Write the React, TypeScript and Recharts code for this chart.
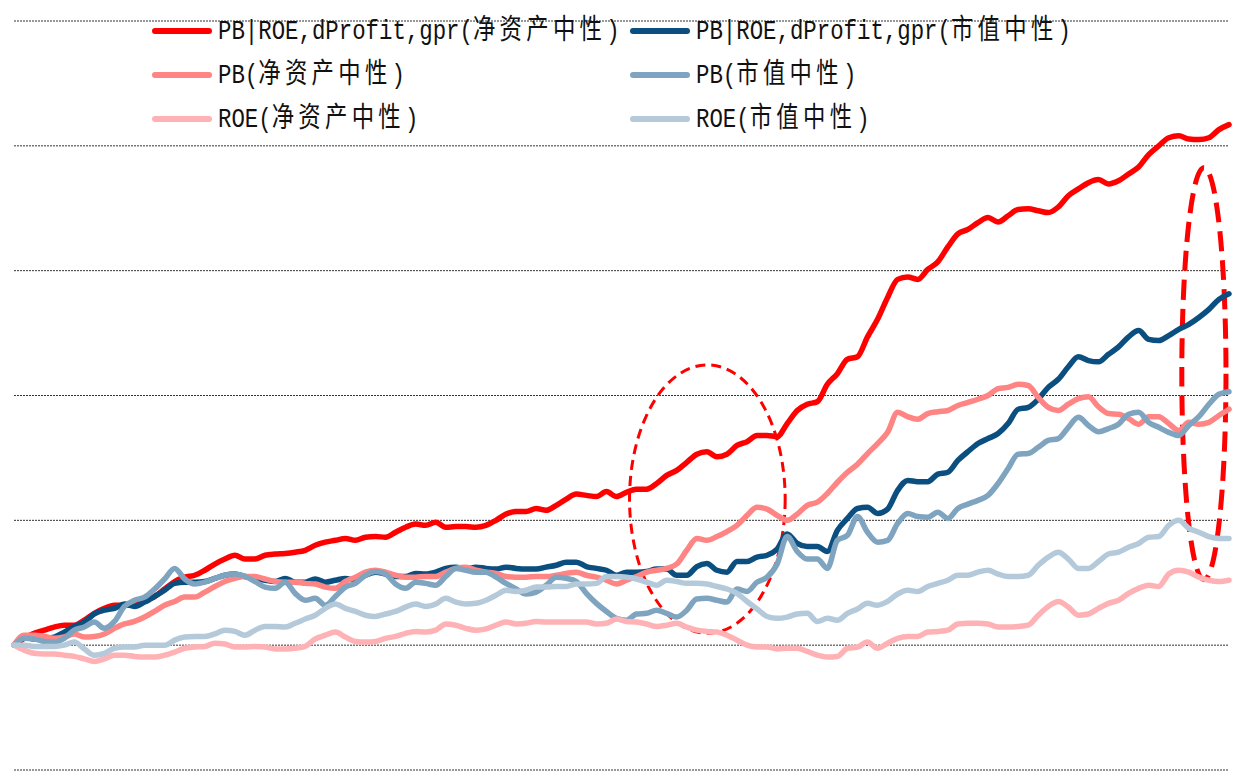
import React from 'react'
import { LineChart, Line, XAxis, YAxis, CartesianGrid, ReferenceArea, Legend } from 'recharts'

// trading-day index along the x axis
const days = Array.from({ length: 122 }, (_, i) => i)

// cumulative excess return, %
const pbRoeNav = [
  0, 1.1, 1.9, 2.4, 2.9, 3.2, 3.2, 4.0, 5.1, 5.9,
  6.4, 6.4, 6.4, 7.2, 7.8, 9.0, 10.2, 10.9, 11.2, 12.0,
  13.0, 13.8, 14.4, 13.8, 13.8, 14.4, 14.6, 14.7, 14.9, 15.2,
  16.0, 16.5, 16.8, 17.1, 16.8, 17.3, 17.4, 17.3, 18.1, 18.9,
  19.4, 19.2, 19.7, 18.9, 19.0, 19.0, 18.9, 19.2, 20.0, 21.0,
  21.4, 21.4, 21.9, 21.6, 22.4, 23.4, 24.2, 24.0, 23.8, 24.6,
  23.8, 24.5, 25.0, 25.0, 25.9, 27.2, 28.0, 29.3, 30.6, 31.0,
  30.2, 30.6, 32.0, 32.6, 33.6, 33.6, 33.4, 35.5, 37.6, 38.6,
  39.0, 41.8, 43.5, 45.8, 46.2, 49.4, 52.2, 55.7, 58.6, 59.0,
  58.6, 60.2, 61.4, 63.8, 65.9, 66.6, 67.7, 68.5, 67.8, 68.8,
  69.8, 69.9, 69.6, 69.3, 70.2, 72.0, 73.1, 74.1, 74.6, 73.9,
  74.4, 75.5, 76.6, 78.6, 80.0, 81.3, 81.6, 81.1, 81.0, 81.3,
  82.6, 83.4,
]

const pbRoeMcap = [
  0, 1.3, 1.0, 1.1, 1.3, 2.1, 3.0, 3.7, 5.0, 5.6,
  5.9, 6.6, 6.2, 6.9, 7.8, 8.8, 9.9, 10.1, 10.1, 10.2,
  10.7, 11.2, 11.4, 11.0, 10.7, 10.4, 10.2, 10.7, 10.1, 10.1,
  10.6, 10.1, 10.4, 10.7, 10.4, 11.2, 11.7, 11.4, 11.0, 11.0,
  11.5, 11.4, 11.7, 12.3, 12.5, 12.2, 12.5, 12.3, 12.2, 12.5,
  12.3, 12.2, 12.2, 12.5, 12.8, 13.3, 13.3, 12.6, 12.3, 12.0,
  11.2, 11.7, 11.7, 11.8, 12.2, 12.2, 11.2, 11.2, 12.6, 13.1,
  12.0, 11.7, 13.4, 13.4, 14.1, 14.4, 15.4, 17.8, 16.3, 15.8,
  15.8, 15.0, 18.4, 20.3, 21.9, 22.1, 21.1, 21.8, 24.8, 26.4,
  26.2, 26.2, 27.4, 27.7, 29.6, 31.0, 32.3, 33.1, 33.9, 35.5,
  37.8, 38.1, 39.4, 41.3, 42.6, 44.6, 46.2, 45.6, 45.4, 46.6,
  47.8, 49.4, 50.4, 49.0, 48.8, 49.6, 50.6, 51.4, 52.5, 53.8,
  55.4, 56.3,
]

const pbNav = [
  0, 1.6, 1.6, 1.4, 1.1, 1.3, 1.8, 1.3, 1.4, 1.8,
  2.7, 3.4, 3.8, 4.5, 5.4, 6.4, 7.0, 7.7, 7.7, 8.5,
  9.4, 10.2, 10.7, 11.0, 11.0, 10.6, 10.2, 10.1, 10.1, 9.9,
  9.8, 9.3, 9.1, 10.2, 10.9, 11.7, 12.0, 11.7, 11.2, 10.9,
  10.9, 11.0, 11.0, 11.7, 12.3, 12.5, 12.0, 11.7, 11.5, 11.0,
  10.9, 10.9, 11.0, 11.0, 11.2, 11.5, 11.7, 11.2, 10.9, 10.4,
  9.8, 10.4, 11.0, 11.7, 12.0, 12.3, 13.0, 15.2, 17.1, 16.8,
  17.4, 18.2, 19.2, 20.8, 22.1, 21.8, 20.8, 20.0, 21.0, 22.4,
  22.9, 24.3, 26.1, 27.7, 29.0, 30.7, 32.3, 34.1, 37.3, 36.6,
  36.2, 37.1, 37.4, 37.6, 38.4, 38.9, 39.4, 40.0, 41.1, 41.3,
  41.8, 41.6, 39.7, 38.1, 37.6, 38.6, 39.5, 39.8, 38.2, 37.1,
  37.0, 36.3, 35.4, 36.6, 36.6, 35.5, 34.4, 35.7, 35.4, 35.7,
  36.8, 37.8,
]

const pbMcap = [
  0, 1.1, 1.0, 0.6, 0.5, 1.1, 2.4, 2.9, 3.7, 2.7,
  3.8, 6.2, 7.2, 7.7, 9.0, 10.6, 12.3, 10.6, 9.8, 10.1,
  10.7, 11.2, 11.4, 11.0, 10.2, 9.3, 9.1, 10.1, 8.3, 7.2,
  7.5, 6.4, 7.8, 9.3, 9.9, 11.2, 11.8, 11.4, 9.8, 9.1,
  10.1, 9.9, 9.6, 11.0, 12.3, 12.0, 11.7, 11.7, 10.9, 9.9,
  9.0, 8.2, 8.5, 9.6, 10.9, 10.7, 10.2, 8.3, 6.7, 5.4,
  4.3, 4.0, 5.0, 5.1, 5.6, 5.1, 4.5, 5.6, 7.4, 7.5,
  7.2, 6.9, 9.0, 8.6, 10.1, 10.9, 13.0, 17.4, 15.0, 13.8,
  13.8, 12.3, 16.8, 17.6, 20.6, 18.1, 16.5, 16.8, 19.5, 21.1,
  20.6, 20.5, 21.3, 20.3, 21.9, 22.6, 23.2, 24.0, 25.9, 28.3,
  30.6, 30.7, 31.7, 32.8, 33.1, 34.9, 36.5, 35.2, 34.2, 34.7,
  35.4, 37.0, 37.3, 35.7, 34.9, 34.1, 33.6, 35.2, 36.6, 38.6,
  40.2, 40.6,
]

const roeNav = [
  0, -0.8, -1.3, -1.4, -1.4, -1.6, -1.8, -2.2, -2.6, -2.2,
  -1.6, -1.6, -1.8, -1.9, -1.9, -1.6, -1.1, -0.5, -0.3, -0.2,
  0.3, 0.2, -0.3, -0.3, -0.2, -0.3, -0.6, -0.6, -0.5, -0.2,
  1.0, 1.6, 2.1, 1.3, 0.6, 0.5, 0.6, 1.1, 1.4, 1.9,
  2.2, 2.1, 2.4, 3.4, 3.2, 2.7, 2.4, 2.6, 3.2, 3.7,
  3.4, 3.5, 3.8, 3.7, 3.7, 3.7, 3.7, 3.7, 3.4, 3.5,
  4.2, 3.8, 3.7, 3.4, 3.0, 3.2, 3.5, 2.9, 2.4, 2.2,
  2.1, 1.6, 0.8, 0, -0.3, -0.3, -0.6, -0.5, -0.5, -1.0,
  -1.6, -1.9, -1.8, -0.5, -0.3, 0.5, -0.5, 0.3, 1.1, 1.4,
  1.4, 2.1, 2.2, 2.4, 3.4, 3.5, 3.5, 3.4, 2.9, 2.9,
  3.0, 3.2, 4.8, 6.2, 7.0, 6.1, 4.8, 5.0, 5.9, 6.7,
  7.2, 8.3, 9.1, 9.6, 9.4, 11.4, 12.0, 11.7, 10.9, 10.4,
  10.2, 10.4,
]

const roeMcap = [
  0, 0, -0.2, -0.2, -0.2, 0, 0.5, -0.6, -1.6, -1.3,
  -0.5, -0.3, -0.3, 0, 0, 0, 0.8, 1.3, 1.4, 1.4,
  1.8, 2.4, 2.2, 1.6, 2.4, 3.0, 3.0, 2.9, 3.5, 4.2,
  4.8, 5.9, 6.6, 5.9, 5.4, 4.8, 4.6, 5.0, 5.4, 6.1,
  6.6, 6.2, 6.6, 7.5, 6.9, 6.6, 6.7, 7.2, 8.0, 8.8,
  8.6, 8.8, 9.3, 9.3, 9.4, 9.4, 9.8, 9.8, 9.9, 11.0,
  11.0, 10.9, 10.6, 10.1, 9.6, 10.4, 10.2, 9.9, 9.9, 9.8,
  9.4, 9.0, 8.3, 7.0, 5.8, 4.6, 4.3, 4.5, 5.0, 5.1,
  3.8, 4.3, 4.0, 5.1, 5.8, 6.7, 6.4, 7.0, 8.2, 8.8,
  8.6, 9.4, 9.9, 10.4, 11.2, 11.2, 11.7, 12.0, 11.4, 11.0,
  11.0, 11.2, 12.8, 14.1, 14.9, 13.8, 12.3, 12.3, 13.4, 14.6,
  14.9, 15.7, 16.3, 17.3, 17.4, 19.2, 20.0, 18.7, 18.1, 17.4,
  17.1, 17.1,
]

const yTicks = [-20, 0, 20, 40, 60, 80, 100]

const series = [
  { key: 's1', name: 'PB|ROE,dProfit,gpr(净资产中性)', color: '#FF0000', values: pbRoeNav },
  { key: 's2', name: 'PB|ROE,dProfit,gpr(市值中性)', color: '#0A4F80', values: pbRoeMcap },
  { key: 's3', name: 'PB(净资产中性)', color: '#FF8484', values: pbNav },
  { key: 's4', name: 'PB(市值中性)', color: '#7FA4C0', values: pbMcap },
  { key: 's5', name: 'ROE(净资产中性)', color: '#FFB2B5', values: roeNav },
  { key: 's6', name: 'ROE(市值中性)', color: '#B4C9DA', values: roeMcap },
]

// dashed ellipses highlighting two periods (data units)
const highlights = [
  { x1: 61.3, x2: 76.8, y1: 1.9, y2: 44.9, width: 3, dash: '10 6' },
  { x1: 116.3, x2: 120.7, y1: 10.5, y2: 76.5, width: 5, dash: '20 9' },
]

const data = days.map((t, i) => {
  const row: Record<string, number> = { t }
  series.forEach((s) => { row[s.key] = s.values[i] })
  return row
})

function splitLabel(text: string) {
  return text.split(/([\u4e00-\u9fff]+)/).filter(Boolean)
}

function ChartLegend() {
  return (
    <div style={{ position: 'relative', width: 1242, height: 140 }}>
      {series.map((s, k) => {
        const col = k % 2
        const row = Math.floor(k / 2)
        return (
          <div
            key={s.key}
            style={{
              position: 'absolute',
              left: col === 0 ? 152 : 630,
              top: 31 + row * 44 - 16,
              height: 32,
              display: 'flex',
              alignItems: 'center',
              whiteSpace: 'nowrap',
            }}
          >
            <div style={{ width: 60, height: 6, borderRadius: 3, background: s.color, marginRight: 6 }} />
            <span
              style={{
                display: 'inline-block',
                fontFamily: '"Liberation Mono", "Noto Sans CJK SC", monospace',
                fontSize: 26,
                lineHeight: '32px',
                color: '#111',
                transform: 'scale(0.86, 1.08)',
                transformOrigin: 'left center',
              }}
            >
              {splitLabel(s.name).map((part, j) =>
                /[\u4e00-\u9fff]/.test(part) ? (
                  <span key={j} style={{ letterSpacing: 5 }}>{part}</span>
                ) : (
                  <span key={j}>{part}</span>
                )
              )}
            </span>
          </div>
        )
      })}
    </div>
  )
}

function ellipseShape(strokeWidth: number, dash: string) {
  return (props: any) => {
    const { x, y, width, height } = props
    return (
      <ellipse
        cx={x + width / 2}
        cy={y + height / 2}
        rx={Math.abs(width) / 2}
        ry={Math.abs(height) / 2}
        fill="none"
        stroke="#FF0000"
        strokeWidth={strokeWidth}
        strokeDasharray={dash}
      />
    )
  }
}

export default function App() {
  return (
    <div style={{ position: 'absolute', left: 0, top: 0, width: 1242, height: 774, background: '#fff' }}>
      <LineChart width={1242} height={774} data={data} margin={{ top: 21, right: 13, bottom: 4, left: 14 }}>
        <CartesianGrid vertical={false} stroke="#333" strokeDasharray="2 1" />
        <XAxis dataKey="t" type="number" domain={[0, 121]} hide />
        <YAxis domain={[-20, 100]} ticks={yTicks} hide />
        {series.map((s) => (
          <Line
            key={s.key}
            type="monotone"
            dataKey={s.key}
            name={s.name}
            stroke={s.color}
            strokeWidth={5.5}
            strokeLinecap="round"
            strokeLinejoin="round"
            dot={false}
            isAnimationActive={false}
          />
        ))}
        {highlights.map((h, i) => (
          <ReferenceArea
            key={i}
            x1={h.x1}
            x2={h.x2}
            y1={h.y1}
            y2={h.y2}
            ifOverflow="visible"
            shape={ellipseShape(h.width, h.dash)}
          />
        ))}
        <Legend
          layout="horizontal"
          verticalAlign="middle"
          align="center"
          wrapperStyle={{ top: 0, left: 0, width: 1242 }}
          content={() => <ChartLegend />}
        />
      </LineChart>
    </div>
  )
}
